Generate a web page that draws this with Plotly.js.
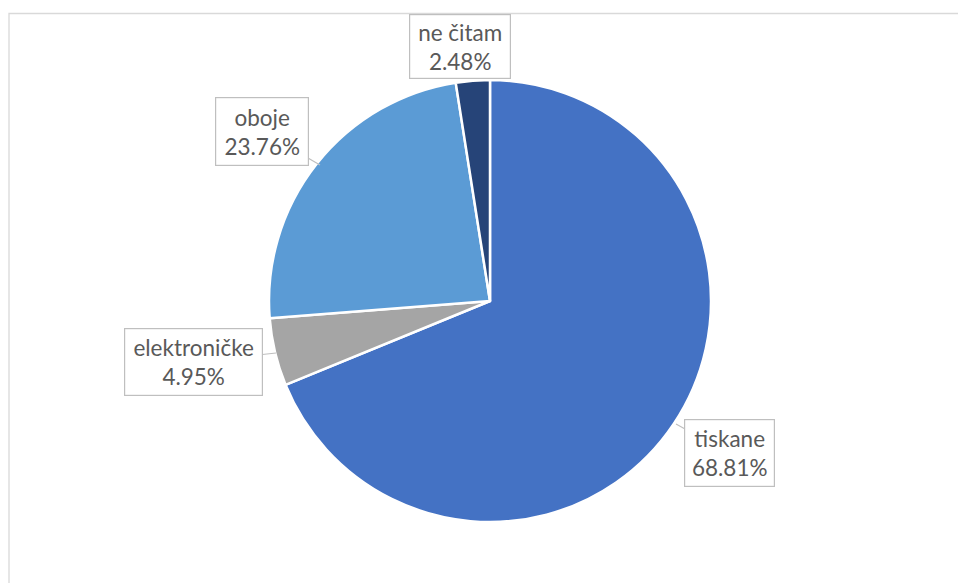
<!DOCTYPE html>
<html><head><meta charset="utf-8">
<script src="https://cdn.plot.ly/plotly-3.0.1.min.js"></script>
<style>html,body{margin:0;padding:0;background:#fff}#chart{width:958px;height:583px}</style>
</head><body><div id="chart"></div>
<script>
const categories = ["tiskane", "elektroničke", "oboje", "ne čitam"];
const percents = [68.81, 4.95, 23.76, 2.48];
const colors = ["#4472C4", "#A5A5A5", "#5B9BD5", "#264478"];

const W = 958, H = 583;
const px = x => x / W, py = y => 1 - y / H;

// label box placement (centre of box, arrow tip, box size)
const labelLayout = [
  {cx: 729.5, cy: 453, tipx: 676, tipy: 424, w: 91, h: 68, arrow: true},
  {cx: 193.5, cy: 362, tipx: 276, tipy: 353, w: 139, h: 68, arrow: true},
  {cx: 262, cy: 131.5, tipx: 320, tipy: 165, w: 94, h: 69, arrow: true},
  {cx: 460, cy: 46.5, tipx: 460, tipy: 46.5, w: 102, h: 65, arrow: false}
];

const annotations = categories.map((c, i) => {
  const L = labelLayout[i];
  const a = {
    xref: 'paper', yref: 'paper',
    text: c + '<br>' + percents[i].toFixed(2) + '%',
    font: {family: 'Lato, "Open Sans", sans-serif', size: 22.5, color: '#595959'},
    bgcolor: '#ffffff', bordercolor: '#BFBFBF', borderwidth: 1.2, borderpad: 0,
    width: L.w - 2, height: L.h - 2, align: 'center', valign: 'middle'
  };
  if (L.arrow) {
    a.x = px(L.tipx); a.y = py(L.tipy);
    a.showarrow = true; a.arrowhead = 0; a.arrowwidth = 1.2; a.arrowcolor = '#BFBFBF';
    a.axref = 'pixel'; a.ayref = 'pixel';
    a.ax = L.cx - L.tipx; a.ay = L.cy - L.tipy;
    a.standoff = 0; a.startstandoff = 0;
  } else {
    a.x = px(L.cx); a.y = py(L.cy); a.showarrow = false;
    a.xanchor = 'center'; a.yanchor = 'middle';
  }
  return a;
});

const trace = {
  type: 'pie',
  labels: categories,
  values: percents,
  sort: false,
  direction: 'clockwise',
  rotation: 0,
  textinfo: 'none',
  hoverinfo: 'label+percent',
  marker: {colors: colors, line: {color: '#ffffff', width: 2.5}},
  domain: {x: [268 / W, 712 / W], y: [1 - 522 / H, 1 - 80 / H]},
  showlegend: false
};

const layout = {
  width: W, height: H,
  margin: {l: 0, r: 0, t: 0, b: 0},
  paper_bgcolor: '#ffffff',
  showlegend: false,
  annotations: annotations,
  shapes: [{
    type: 'path', xref: 'paper', yref: 'paper',
    path: `M ${px(9)} ${py(600)} L ${px(9)} ${py(13.5)} L ${px(960)} ${py(13.5)}`,
    line: {color: '#D9D9D9', width: 1.3}
  }]
};

Plotly.newPlot('chart', [trace], layout, {displayModeBar: false, staticPlot: true});
</script></body></html>
